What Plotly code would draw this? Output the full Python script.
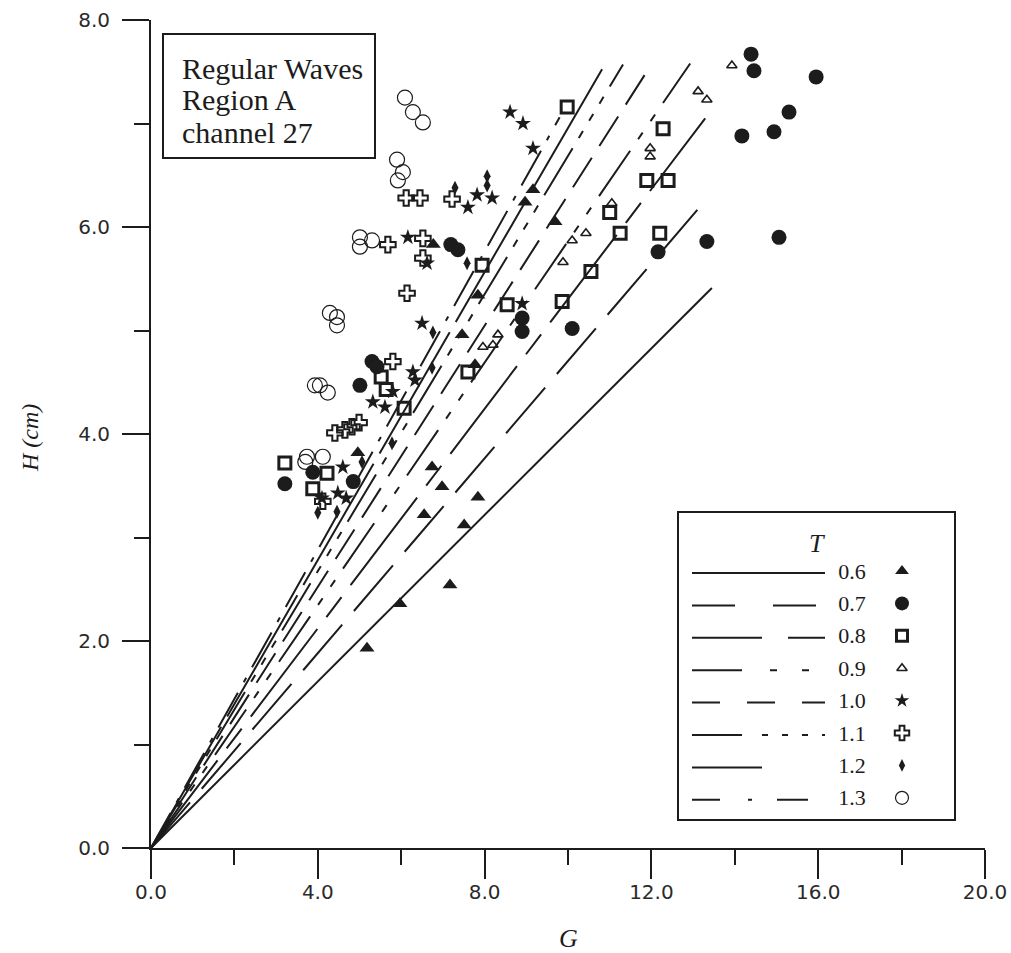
import plotly.graph_objects as go

# ---------------- data ----------------
T_labels = ["0.6", "0.7", "0.8", "0.9", "1.0", "1.1", "1.2", "1.3"]

G_06 = [5.18, 5.97, 7.17, 7.51, 7.84, 6.55, 6.98, 6.74, 4.96, 7.77, 7.46, 7.84, 6.77, 8.97, 9.16, 9.69]
H_06 = [1.93, 2.36, 2.54, 3.12, 3.39, 3.22, 3.49, 3.68, 3.82, 4.67, 4.96, 5.34, 5.83, 6.24, 6.36, 6.05]

G_07 = [3.21, 3.88, 4.85, 5.01, 5.30, 5.42, 7.19, 7.36, 8.90, 8.90, 10.10, 12.16, 13.33, 14.39, 14.46, 15.95, 15.30, 14.17, 14.94, 15.06]
H_07 = [3.52, 3.63, 3.54, 4.47, 4.70, 4.65, 5.83, 5.78, 5.12, 4.99, 5.02, 5.76, 5.86, 7.67, 7.51, 7.45, 7.11, 6.88, 6.92, 5.90]

G_08 = [3.21, 4.22, 3.88, 5.52, 5.64, 6.07, 7.60, 7.94, 8.54, 9.86, 10.55, 11.00, 11.25, 12.20, 11.89, 12.40, 12.28, 9.98]
H_08 = [3.72, 3.62, 3.47, 4.55, 4.43, 4.25, 4.60, 5.63, 5.25, 5.28, 5.57, 6.14, 5.94, 5.94, 6.45, 6.45, 6.95, 7.16]

G_09 = [13.93, 13.12, 13.33, 11.97, 11.97, 11.05, 10.43, 10.10, 9.88, 7.96, 8.20, 8.32]
H_09 = [7.56, 7.31, 7.23, 6.76, 6.68, 6.23, 5.94, 5.87, 5.66, 4.84, 4.86, 4.96]

G_10 = [8.61, 8.92, 9.16, 7.82, 8.18, 7.60, 6.16, 6.62, 6.50, 8.90, 6.28, 6.33, 5.32, 5.61, 5.80, 4.60, 4.48, 4.68, 4.10]
H_10 = [7.11, 7.00, 6.76, 6.31, 6.28, 6.19, 5.90, 5.65, 5.07, 5.26, 4.60, 4.52, 4.31, 4.26, 4.41, 3.68, 3.43, 3.38, 3.38]

G_11 = [6.12, 6.45, 7.22, 5.68, 6.52, 6.52, 6.14, 5.80, 4.41, 4.65, 4.82, 4.99, 4.12]
H_11 = [6.28, 6.28, 6.27, 5.83, 5.89, 5.70, 5.36, 4.70, 4.01, 4.04, 4.07, 4.11, 3.35]

G_12 = [8.06, 8.06, 7.29, 7.58, 6.76, 6.74, 5.78, 5.06, 4.00, 4.46]
H_12 = [6.49, 6.40, 6.38, 5.65, 4.98, 4.64, 3.91, 3.73, 3.24, 3.25]

G_13 = [6.09, 6.28, 6.52, 5.90, 6.04, 5.92, 5.01, 5.30, 5.01, 4.29, 4.46, 4.46, 3.93, 4.05, 4.24, 3.74, 3.70, 4.12]
H_13 = [7.25, 7.11, 7.01, 6.65, 6.53, 6.45, 5.90, 5.87, 5.81, 5.17, 5.13, 5.05, 4.47, 4.47, 4.40, 3.78, 3.73, 3.78]

# fitted lines: each starts at the origin and ends at the point
line_G_start = [0.0] * 8
line_H_start = [0.0] * 8
line_G_end = [13.45, 13.24, 13.29, 12.93, 11.92, 11.32, 10.94, 9.80]
line_H_end = [5.41, 6.23, 7.05, 7.58, 7.52, 7.57, 7.61, 7.06]

x_tick_vals = [0, 4, 8, 12, 16, 20]
y_tick_vals = [0, 2, 4, 6, 8]

box_lines = ["Regular Waves", "Region A", "channel 27"]

# ---------------- styles ----------------
G_series = [G_06, G_07, G_08, G_09, G_10, G_11, G_12, G_13]
H_series = [H_06, H_07, H_08, H_09, H_10, H_11, H_12, H_13]

INK = "#1c1c1c"
plot_dash = ["solid", "60px,18px", "110px,15px,25px,15px", "55px,14px,8px,14px,8px,14px",
             "35px,14px", "55px,12px,8px,12px,8px,12px,8px,12px", "140px,12px", "40px,12px,5px,12px"]
legend_dash = ["solid", "43px,38px,43px,20px", "70px,26px,37px,10px", "50px,28px,7px,25px,7px,30px",
               "28px,27px", "50px,20px,6px,14px,6px,14px,6px,14px", "70px,80px", "28px,28px,4px,25px,31px,30px"]
markers = [
    dict(symbol="triangle-up", size=13, color=INK, line=dict(width=0)),
    dict(symbol="circle", size=15, color=INK, line=dict(width=0)),
    dict(symbol="square-open", size=12, color=INK, line=dict(width=3)),
    dict(symbol="triangle-up-open", size=9, color=INK, line=dict(width=1.6)),
    dict(symbol="star", size=12, color=INK, line=dict(width=0)),
    dict(symbol="cross-open", size=13, color=INK, line=dict(width=2)),
    dict(symbol="diamond-tall", size=10, color=INK, line=dict(width=0)),
    dict(symbol="circle-open", size=15, color=INK, line=dict(width=1.2)),
]
legend_markers = [
    dict(symbol="triangle-up", size=12, color=INK, line=dict(width=0)),
    dict(symbol="circle", size=14, color=INK, line=dict(width=0)),
    dict(symbol="square-open", size=11, color=INK, line=dict(width=3)),
    dict(symbol="triangle-up-open", size=9, color=INK, line=dict(width=1.6)),
    dict(symbol="star", size=11, color=INK, line=dict(width=0)),
    dict(symbol="cross-open", size=12, color=INK, line=dict(width=2)),
    dict(symbol="diamond-tall", size=9, color=INK, line=dict(width=0)),
    dict(symbol="circle-open", size=13, color=INK, line=dict(width=1.2)),
]

# page geometry (body margin removed in the page, so figure pixels == page pixels)
W, Hgt = 1011, 953
PL, PR, PT, PB = 151, 985, 20, 848          # plot area in page pixels
ML, MT, MR, MB = PL, PT, W - PR, Hgt - PB
PW, PH = PR - PL, PB - PT


def px_x(p):
    return (p - PL) / PW


def px_y(p):
    return (PB - p) / PH


fig = go.Figure()

# lines
for i in range(8):
    fig.add_trace(go.Scatter(
        x=[line_G_start[i], line_G_end[i]], y=[line_H_start[i], line_H_end[i]],
        mode="lines", line=dict(color=INK, width=2, dash=plot_dash[i]),
        showlegend=False, hoverinfo="skip"))

# points
for i in range(8):
    fig.add_trace(go.Scatter(
        x=G_series[i], y=H_series[i], mode="markers", marker=markers[i],
        name=T_labels[i], showlegend=False, cliponaxis=False))

# custom legend drawn on an inset axis measured in pixels
LX0, LX1, LY0, LY1 = 678, 955, 512, 820
row_y0, row_step = 573, 32.4
for i in range(8):
    yy = row_y0 + row_step * i
    fig.add_trace(go.Scatter(
        x=[692, 825], y=[yy, yy], xaxis="x2", yaxis="y2", mode="lines",
        line=dict(color=INK, width=2, dash=legend_dash[i]), showlegend=False, hoverinfo="skip"))
    fig.add_trace(go.Scatter(
        x=[852], y=[yy], xaxis="x2", yaxis="y2", mode="text", text=[T_labels[i]],
        textfont=dict(family="Liberation Serif", size=22, color=INK), textposition="middle center",
        showlegend=False, hoverinfo="skip"))
    fig.add_trace(go.Scatter(
        x=[902], y=[yy - 2], xaxis="x2", yaxis="y2", mode="markers", marker=legend_markers[i],
        showlegend=False, hoverinfo="skip"))

fig.add_annotation(x=817, y=543, xref="x2", yref="y2", text="<i>T</i>", showarrow=False,
                   font=dict(family="Liberation Serif", size=26, color=INK))

axis_font = dict(family="DejaVu Sans", size=20, color="#2a2a2a")
fig.update_layout(
    width=W, height=Hgt, autosize=False,
    margin=dict(l=ML, r=MR, t=MT, b=MB, pad=0, autoexpand=False),
    paper_bgcolor="white", plot_bgcolor="white",
    showlegend=False,
    xaxis=dict(range=[0, 20], tickvals=x_tick_vals, tickformat=".1f", showgrid=False, zeroline=False,
               automargin=False,
               showline=True, linecolor=INK, linewidth=2, ticks="outside", ticklen=29, tickwidth=2,
               tickcolor=INK, tickfont=axis_font, ticklabelstandoff=-4,
               minor=dict(ticks="outside", dtick=2, ticklen=15, tickwidth=2, tickcolor=INK, showgrid=False)),
    yaxis=dict(range=[0, 8], tickvals=y_tick_vals, tickformat=".1f", showgrid=False, zeroline=False,
               automargin=False,
               showline=True, linecolor=INK, linewidth=2, ticks="outside", ticklen=27, tickwidth=2,
               tickcolor=INK, tickfont=axis_font, ticklabelstandoff=8,
               minor=dict(ticks="outside", dtick=1, ticklen=15, tickwidth=2, tickcolor=INK, showgrid=False)),
    xaxis2=dict(domain=[px_x(LX0), px_x(LX1)], range=[LX0, LX1], anchor="y2", visible=False,
                fixedrange=True, automargin=False),
    yaxis2=dict(domain=[px_y(LY1), px_y(LY0)], range=[LY1, LY0], anchor="x2", visible=False,
                fixedrange=True, automargin=False),
)

# axis titles
fig.add_annotation(x=0.5, y=px_y(938), xref="paper", yref="paper", text="<i>G</i>", showarrow=False,
                   font=dict(family="Liberation Serif", size=26, color=INK), xanchor="center", yanchor="middle")
fig.add_annotation(x=px_x(30), y=px_y(438), xref="paper", yref="paper", text="<i>H (cm)</i>",
                   showarrow=False, textangle=-90, xanchor="center", yanchor="middle",
                   font=dict(family="Liberation Serif", size=24, color=INK))

# info box
fig.add_shape(type="rect", xref="paper", yref="paper", x0=px_x(163), x1=px_x(375), y0=px_y(158), y1=px_y(34),
              line=dict(color=INK, width=2), fillcolor="rgba(0,0,0,0)")
for k, t in enumerate(box_lines):
    fig.add_annotation(x=px_x(180), y=px_y(68 + 32 * k), xref="paper", yref="paper", text=t, showarrow=False,
                       xanchor="left", yanchor="middle",
                       font=dict(family="Liberation Serif", size=30, color=INK))

# legend box
fig.add_shape(type="rect", xref="paper", yref="paper", x0=px_x(LX0), x1=px_x(LX1), y0=px_y(LY1), y1=px_y(LY0),
              line=dict(color=INK, width=2), fillcolor="rgba(0,0,0,0)")

fig.write_html("out.html", config={"displayModeBar": False},
               post_script="document.body.style.margin='0';document.documentElement.style.overflow='hidden';")
